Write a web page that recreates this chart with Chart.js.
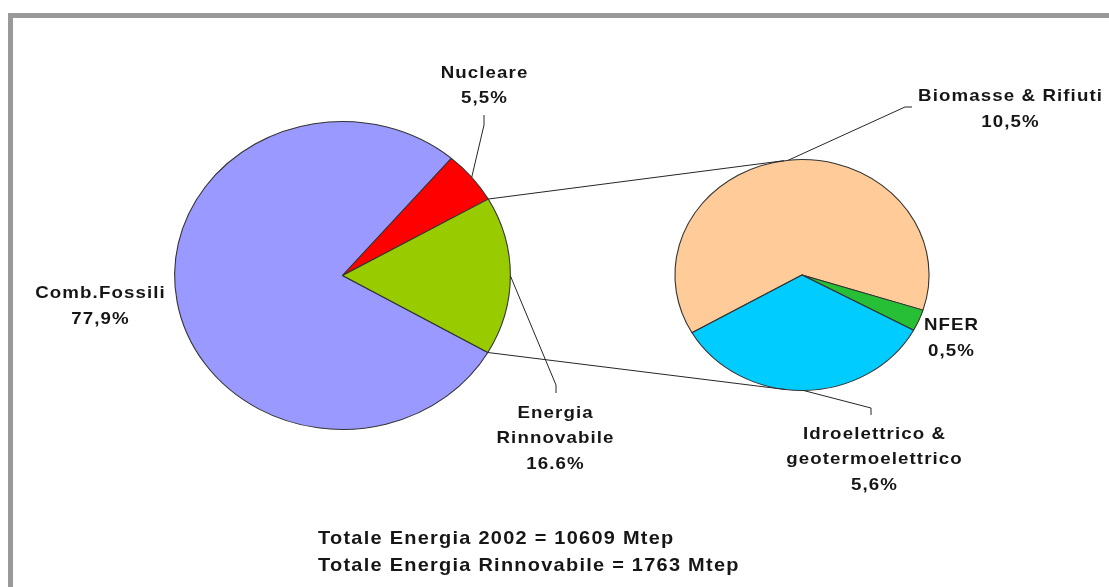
<!DOCTYPE html>
<html>
<head>
<meta charset="utf-8">
<script src="https://cdn.jsdelivr.net/npm/chart.js@4.4.1/dist/chart.umd.min.js"></script>
<style>
  body { margin: 0; background: #fff; width: 1109px; height: 587px; overflow: hidden; position: relative;
         font-family: "Liberation Sans", Arial, sans-serif; }
  #frame { position: absolute; left: 8px; top: 13px; width: 1120px; height: 620px; border: 5px solid #999; }
  canvas { position: absolute; left: 0; top: 0; }
  .lbl { position: absolute; font-weight: bold; font-size: 17px; letter-spacing: 1px; color: #161616;
         line-height: 25.5px; text-align: center; white-space: nowrap; padding-left: 1px;
         transform: translateX(-50%) scaleX(1.1); }
  #totals { position: absolute; left: 318px; top: 525px; font-weight: bold; font-size: 19px; letter-spacing: 1.2px;
            line-height: 26.7px; color: #161616; white-space: nowrap; transform-origin: 0 0; transform: scaleX(1.05); }
</style>
</head>
<body>
<div id="frame"></div>
<canvas id="main" width="1109" height="587"></canvas>
<canvas id="sub" width="1109" height="587"></canvas>
<div id="labels"></div>
<div id="totals">Totale Energia 2002 = 10609 Mtep<br>Totale Energia Rinnovabile = 1763 Mtep</div>
<script>
// primary pie
const mainCategories = ['Comb.Fossili', 'Nucleare', 'Energia Rinnovabile'];
const mainValues = [77.9, 5.5, 16.6];
const mainPct = ['77,9%', '5,5%', '16.6%'];
const mainColors = ['#9999ff', '#ff0000', '#99cc00'];

// secondary pie (breakdown of Energia Rinnovabile)
const subCategories = ['Biomasse & Rifiuti', 'NFER', 'Idroelettrico & geotermoelettrico'];
const subValues = [10.5, 0.5, 5.6];
const subPct = ['10,5%', '0,5%', '5,6%'];
const subColors = ['#ffcc99', '#26bf36', '#00ccff'];

// label layout: display lines, center x, first line y
const mainLabelLines = [['Comb.Fossili'], ['Nucleare'], ['Energia', 'Rinnovabile']];
const mainLabelPos = [[100, 293], [484, 72.7], [555, 412.7]];
const subLabelLines = [['Biomasse & Rifiuti'], ['NFER'], ['Idroelettrico &', 'geotermoelettrico']];
const subLabelPos = [[1010, 96], [951, 325], [873.5, 433.3]];

// leader lines: from slice middle to these label anchors
const mainLeaders = { 1: [[484, 125], [484, 115]], 2: [[556, 385], [556, 393]] };
const subLeaders = { 0: [[905, 107], [912, 107]], 2: [[871, 408], [871, 415]] };

const MAIN_SX = 1.09, SUB_SX = 1.10;
const LINE = '#262626';

// pies in the picture are slightly wider than tall
const stretch = {
  id: 'stretch',
  beforeDatasetsDraw(chart, args, opts) {
    const a = chart.getDatasetMeta(0).data[0];
    chart.ctx.save();
    chart.ctx.translate(a.x, 0);
    chart.ctx.scale(opts.sx, 1);
    chart.ctx.translate(-a.x, 0);
  },
  afterDatasetsDraw(chart) { chart.ctx.restore(); }
};

function pieConfig(labels, values, colors, rotation, padding, sx) {
  return {
    type: 'pie',
    data: { labels: labels, datasets: [{ data: values, backgroundColor: colors, borderColor: '#333', borderWidth: 1 }] },
    options: {
      responsive: false, animation: false, events: [], rotation: rotation,
      layout: { padding: padding },
      plugins: { legend: { display: false }, tooltip: { enabled: false }, stretch: { sx: sx } }
    },
    plugins: [stretch]
  };
}

function ellPoint(el, sx, ang) {
  return [el.x + sx * el.outerRadius * Math.cos(ang), el.y + el.outerRadius * Math.sin(ang)];
}

function tangent(p, el, sx, upper) {
  const u = (p[0] - el.x) / (sx * el.outerRadius), v = (p[1] - el.y) / el.outerRadius;
  const phi = Math.atan2(v, u), al = Math.acos(1 / Math.hypot(u, v));
  const c = [phi + al, phi - al].sort((a, b) => Math.sin(a) - Math.sin(b));
  return ellPoint(el, sx, upper ? c[0] : c[1]);
}

function polyline(ctx, pts) {
  ctx.beginPath();
  ctx.moveTo(pts[0][0], pts[0][1]);
  for (let i = 1; i < pts.length; i++) ctx.lineTo(pts[i][0], pts[i][1]);
  ctx.stroke();
}

const mainChart = new Chart(document.getElementById('main'),
  pieConfig(mainCategories, mainValues, mainColors, 120, { left: 188, right: 612, top: 121, bottom: 157 }, MAIN_SX));

const connectors = {
  id: 'connectors',
  afterDraw(chart) {
    const ctx = chart.ctx;
    const subArcs = chart.getDatasetMeta(0).data;
    const mainArcs = mainChart.getDatasetMeta(0).data;
    const split = mainArcs[2];
    ctx.save();
    ctx.strokeStyle = LINE;
    ctx.lineWidth = 1;
    const p1 = ellPoint(split, MAIN_SX, split.startAngle);
    const p2 = ellPoint(split, MAIN_SX, split.endAngle);
    polyline(ctx, [p1, tangent(p1, subArcs[0], SUB_SX, true)]);
    polyline(ctx, [p2, tangent(p2, subArcs[0], SUB_SX, false)]);
    for (const k in mainLeaders) {
      const el = mainArcs[k];
      polyline(ctx, [ellPoint(el, MAIN_SX, (el.startAngle + el.endAngle) / 2)].concat(mainLeaders[k]));
    }
    for (const k in subLeaders) {
      const el = subArcs[k];
      polyline(ctx, [ellPoint(el, SUB_SX, (el.startAngle + el.endAngle) / 2)].concat(subLeaders[k]));
    }
    ctx.restore();
  }
};

const subCfg = pieConfig(subCategories, subValues, subColors, 240, { left: 686, right: 191, top: 159, bottom: 196 }, SUB_SX);
subCfg.plugins.push(connectors);
const subChart = new Chart(document.getElementById('sub'), subCfg);

// text labels
const box = document.getElementById('labels');
function addLabel(lines, pct, pos) {
  const d = document.createElement('div');
  d.className = 'lbl';
  d.style.left = pos[0] + 'px';
  d.style.top = (pos[1] - 12.75) + 'px';
  d.innerHTML = lines.concat([pct]).join('<br>');
  box.appendChild(d);
}
mainLabelLines.forEach((l, i) => addLabel(l, mainPct[i], mainLabelPos[i]));
subLabelLines.forEach((l, i) => addLabel(l, subPct[i], subLabelPos[i]));
</script>
</body>
</html>
